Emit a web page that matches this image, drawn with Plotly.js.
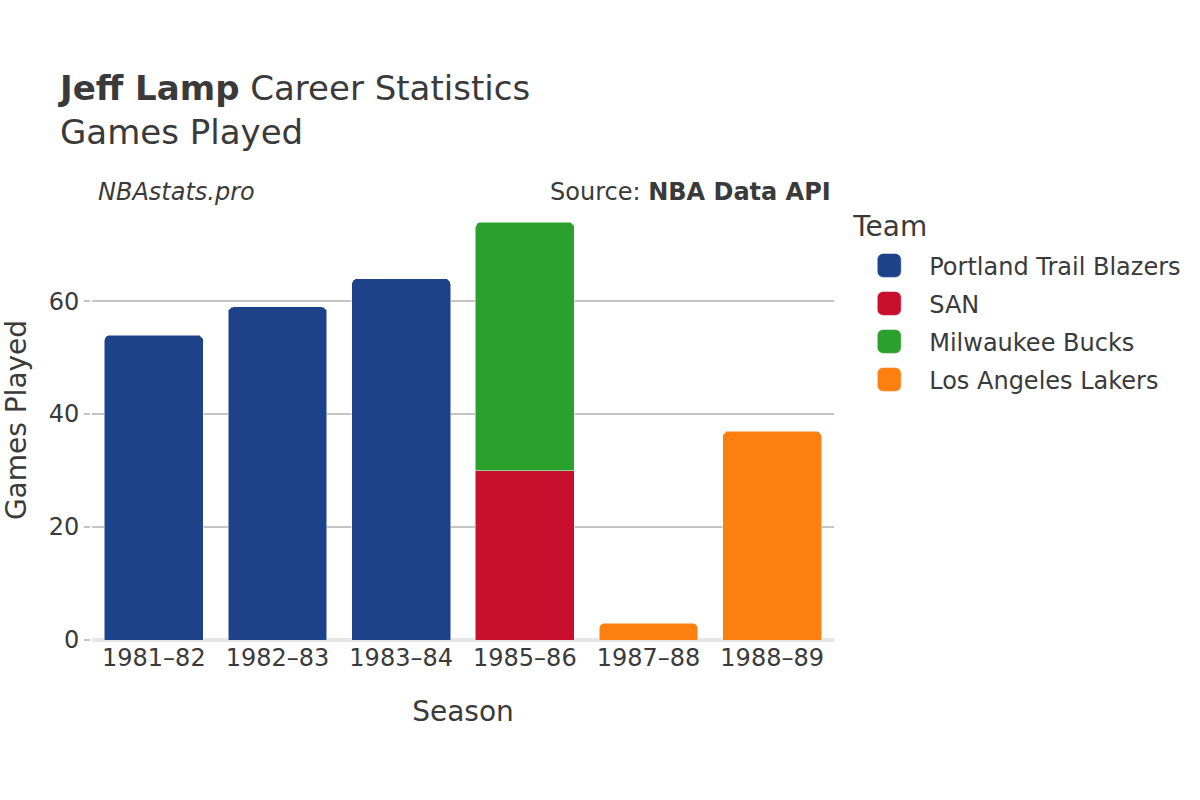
<!DOCTYPE html>
<html>
<head>
<meta charset="utf-8">
<script src="https://cdn.plot.ly/plotly-3.0.1.min.js"></script>
<style>
html,body{margin:0;padding:0;background:#fff;overflow:hidden}
#wrap{width:1200px;height:800px;overflow:hidden}
#chart{width:600px;height:400px;transform:scale(2);transform-origin:0 0}
</style>
</head>
<body>
<div id="wrap"><div id="chart"></div></div>
<script>
const seasons = ["1981–82", "1982–83", "1983–84", "1985–86", "1987–88", "1988–89"];
const teams = ["Portland Trail Blazers", "SAN", "Milwaukee Bucks", "Los Angeles Lakers"];
const teamColors = ["#1d428a", "#c8102e", "#2ca02c", "#fd7f0f"];
const portlandSeasons = ["1981–82", "1982–83", "1983–84"];
const portlandGames = [54, 59, 64];
const sanSeasons = ["1985–86"];
const sanGames = [30];
const milwaukeeSeasons = ["1985–86"];
const milwaukeeGames = [44];
const lakersSeasons = ["1987–88", "1988–89"];
const lakersGames = [3, 37];

const xs = [portlandSeasons, sanSeasons, milwaukeeSeasons, lakersSeasons];
const ys = [portlandGames, sanGames, milwaukeeGames, lakersGames];
const font = "DejaVu Sans, sans-serif";

const data = teams.map((t, i) => ({
  type: "bar",
  name: t,
  x: xs[i],
  y: ys[i],
  marker: {color: teamColors[i], cornerradius: 3, line: {width: 0.5, color: "rgba(255,255,255,0.5)"}},
  hovertemplate: "%{x}: %{y}<extra>" + t + "</extra>"
}));

const layout = {
  width: 600, height: 400,
  paper_bgcolor: "#fff", plot_bgcolor: "#fff",
  font: {family: font, color: "#3a3a3a", size: 12},
  margin: {l: 46, r: 183, t: 100, b: 80},
  barmode: "stack",
  bargap: 0.2,
  title: {
    text: "<b>Jeff Lamp</b> Career Statistics<br>Games Played",
    x: 0.05, xref: "container", xanchor: "left",
    y: 0.875, yref: "container", yanchor: "middle",
    font: {size: 17, color: "#3a3a3a", family: font}
  },
  xaxis: {
    type: "category",
    categoryorder: "array", categoryarray: seasons,
    title: {text: "Season", font: {size: 14}, standoff: 15},
    tickfont: {size: 12},
    showgrid: false,
    ticks: ""
  },
  yaxis: {
    title: {text: "Games Played", font: {size: 14}, standoff: 8},
    tickfont: {size: 12},
    range: [0, 77.9],
    tickvals: [0, 20, 40, 60],
    showgrid: true, gridcolor: "#c4c4c4", gridwidth: 0.8,
    zeroline: true, zerolinecolor: "#e6e6e6", zerolinewidth: 2,
    ticks: "outside", ticklen: 3, tickcolor: "#c4c4c4", tickwidth: 0.8
  },
  legend: {
    title: {text: "Team", font: {size: 14}},
    xref: "container", yref: "container",
    x: 0.7077, xanchor: "left", y: 0.75, yanchor: "top",
    traceorder: "normal",
    font: {size: 12},
    tracegroupgap: 0
  },
  annotations: [
    {text: "<i>NBAstats.pro</i>", xref: "paper", yref: "paper", x: 0.003, y: 1.018, xanchor: "left", yanchor: "middle", showarrow: false, font: {size: 12, color: "#3a3a3a"}},
    {text: "Source: <b>NBA Data API</b>", xref: "paper", yref: "paper", x: 1, y: 1.018, xanchor: "right", yanchor: "middle", showarrow: false, font: {size: 12, color: "#3a3a3a"}}
  ]
};

Plotly.newPlot("chart", data, layout, {displayModeBar: false, responsive: false});
</script>
</body>
</html>
